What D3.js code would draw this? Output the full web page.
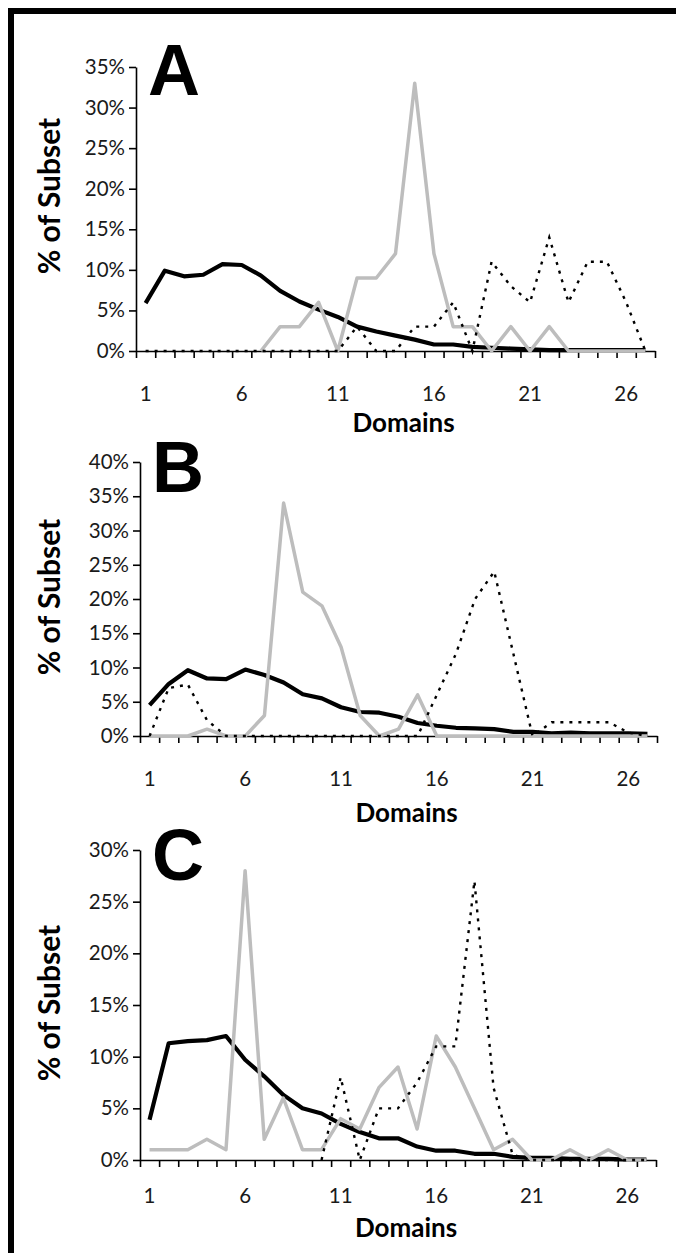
<!DOCTYPE html>
<html>
<head>
<meta charset="utf-8">
<script src="https://cdn.jsdelivr.net/npm/d3@7"></script>
<style>
  body { margin: 0; background: #fff; }
  svg { display: block; }
  .tick text { font-family: Lato, "Open Sans", sans-serif; fill: #1a1a1a; }
</style>
</head>
<body>
<div id="chart"></div>
<script>
// categories (number of domains) and axis labels
var domains = [1, 2, 3, 4, 5, 6, 7, 8, 9, 10, 11, 12, 13, 14, 15, 16, 17, 18, 19, 20, 21, 22, 23, 24, 25, 26, 27];
var xLabels = [1, 6, 11, 16, 21, 26];
var yTicksA = [0, 5, 10, 15, 20, 25, 30, 35];
var yTicksB = [0, 5, 10, 15, 20, 25, 30, 35, 40];
var yTicksC = [0, 5, 10, 15, 20, 25, 30];

// panel A, % of subset
var solidA  = [5.9, 9.9, 9.2, 9.4, 10.7, 10.6, 9.3, 7.4, 6.1, 5.1, 4.2, 3.0, 2.4, 1.9, 1.4, 0.8, 0.8, 0.5, 0.4, 0.3, 0.2, 0.1, 0.1, 0.1, 0.1, 0.1, 0.1];
var greyA   = [null, null, null, null, null, null, 0, 3, 3, 6, 0, 9, 9, 12, 33, 12, 3, 3, 0, 3, 0, 3, 0, 0, 0, 0, 0];
var dottedA = [0, 0, 0, 0, 0, 0, 0, 0, 0, 0, 0, 3, 0, 0, 3, 3, 6, 0, 11, 8, 6, 14, 6, 11, 11, 6, 0];

// panel B
var solidB  = [4.5, 7.6, 9.6, 8.4, 8.3, 9.7, 8.9, 7.8, 6.1, 5.5, 4.2, 3.5, 3.4, 2.8, 1.9, 1.5, 1.2, 1.1, 1.0, 0.6, 0.6, 0.4, 0.5, 0.4, 0.4, 0.4, 0.3];
var greyB   = [0, 0, 0, 1, 0, 0, 3, 34, 21, 19, 13, 3, 0, 1, 6, 0, 0, 0, 0, 0, 0, 0, 0, 0, 0, 0, 0];
var dottedB = [0, 7, 7.5, 2.3, 0, 0, 0, 0, 0, 0, 0, 0, 0, 0, 0, 6, 12, 20, 24, 12, 0, 2, 2, 2, 2, 0.5, 0];

// panel C
var solidC  = [3.9, 11.3, 11.5, 11.6, 12.0, 9.7, 8.1, 6.3, 5.0, 4.5, 3.5, 2.7, 2.1, 2.1, 1.3, 0.9, 0.9, 0.6, 0.6, 0.3, 0.2, 0.2, 0.1, 0.1, 0.1, 0.05, 0.05];
var greyC   = [1, 1, 1, 2, 1, 28, 2, 6, 1, 1, 4, 3, 7, 9, 3, 12, 9, 5, 1, 2, 0, 0, 1, 0, 1, 0, 0];
var dottedC = [null, null, null, null, null, null, null, null, null, 0, 8, 0, 5, 5, 7.5, 11, 11, 27, 7, 0.5, 0, 0, 0, 0, 0, 0, 0];

var W = 676, H = 1253;
var svg = d3.select("#chart").append("svg")
  .attr("width", W)
  .attr("height", H);

// frame (top + left black band)
svg.append("rect").attr("x", 8).attr("y", 8).attr("width", W - 8).attr("height", 6).attr("fill", "#000");
svg.append("rect").attr("x", 8).attr("y", 8).attr("width", 6).attr("height", H - 8).attr("fill", "#000");

var panels = [
  {letter: "A", solid: solidA, grey: greyA, dotted: dottedA, ticks: yTicksA,
   left: 136, right: 655, bottom: 351, top: 67, letterY: 95, titleY: 196, labelY: 401, domY: 432},
  {letter: "B", solid: solidB, grey: greyB, dotted: dottedB, ticks: yTicksB,
   left: 140, right: 657, bottom: 736, top: 462, letterY: 492, titleY: 597, labelY: 786, domY: 822},
  {letter: "C", solid: solidC, grey: greyC, dotted: dottedC, ticks: yTicksC,
   left: 140, right: 656, bottom: 1160, top: 850, letterY: 880, titleY: 1003, labelY: 1203, domY: 1237}
];

var drawPanel = function(p) {
  var g = svg.append("g");
  var yMax = p.ticks[p.ticks.length - 1];

  var x = d3.scaleLinear()
    .domain([0.5, domains.length + 0.5])
    .range([p.left, p.right]);
  var y = d3.scaleLinear()
    .domain([0, yMax])
    .range([p.bottom, p.top]);

  // y axis
  g.append("g")
    .attr("transform", "translate(" + p.left + ",0)")
    .call(d3.axisLeft(y).tickValues(p.ticks).tickFormat(d => d + "%").tickSize(7).tickSizeOuter(0).tickPadding(4))
    .call(a => a.selectAll("line, path").attr("stroke", "#000").attr("stroke-width", 1.6))
    .call(a => a.selectAll("text").attr("font-size", 20.5));

  // x axis: tick marks between categories
  var bounds = domains.map(d => d - 0.5).concat([domains.length + 0.5]);
  g.append("g")
    .attr("transform", "translate(0," + p.bottom + ")")
    .call(d3.axisBottom(x).tickValues(bounds).tickFormat("").tickSize(7).tickSizeOuter(0))
    .call(a => a.selectAll("line, path").attr("stroke", "#000").attr("stroke-width", 1.6));

  // category labels
  g.selectAll(".xlab")
    .data(xLabels)
    .enter().append("text")
      .attr("class", "xlab")
      .attr("x", d => x(d))
      .attr("y", p.labelY)
      .attr("text-anchor", "middle")
      .attr("font-family", "Lato, 'Open Sans', sans-serif")
      .attr("font-size", 20.5)
      .attr("fill", "#1a1a1a")
      .text(d => d);

  // series
  var line = d3.line()
    .defined(d => d[1] !== null)
    .x(d => x(d[0]))
    .y(d => y(d[1]));
  var pairs = arr => domains.map((d, i) => [d, arr[i]]);

  g.append("path")
    .attr("d", line(pairs(p.solid)))
    .attr("fill", "none")
    .attr("stroke", "#000")
    .attr("stroke-width", 4.2)
    .attr("stroke-linejoin", "round");
  g.append("path")
    .attr("d", line(pairs(p.grey)))
    .attr("fill", "none")
    .attr("stroke", "#bdbdbd")
    .attr("stroke-width", 3.5)
    .attr("stroke-linejoin", "round");
  g.append("path")
    .attr("d", line(pairs(p.dotted)))
    .attr("fill", "none")
    .attr("stroke", "#000")
    .attr("stroke-width", 2.4)
    .attr("stroke-dasharray", "3,6");

  // panel letter
  g.append("text")
    .attr("x", p.left + 12)
    .attr("y", p.letterY)
    .attr("font-family", "'Liberation Sans', Arial, sans-serif")
    .attr("font-weight", "bold")
    .attr("font-size", 72)
    .attr("fill", "#000")
    .text(p.letter);

  // axis titles
  g.append("text")
    .attr("transform", "translate(60," + p.titleY + ") rotate(-90)")
    .attr("text-anchor", "middle")
    .attr("font-family", "Lato, 'Open Sans', sans-serif")
    .attr("font-weight", "bold")
    .attr("font-size", 30)
    .attr("fill", "#000")
    .text("% of Subset");
  g.append("text")
    .attr("x", (p.left + p.right) / 2 + 8)
    .attr("y", p.domY)
    .attr("text-anchor", "middle")
    .attr("font-family", "Lato, 'Open Sans', sans-serif")
    .attr("font-weight", "bold")
    .attr("font-size", 26)
    .attr("fill", "#000")
    .text("Domains");
};

panels.forEach(drawPanel);
</script>
</body>
</html>
